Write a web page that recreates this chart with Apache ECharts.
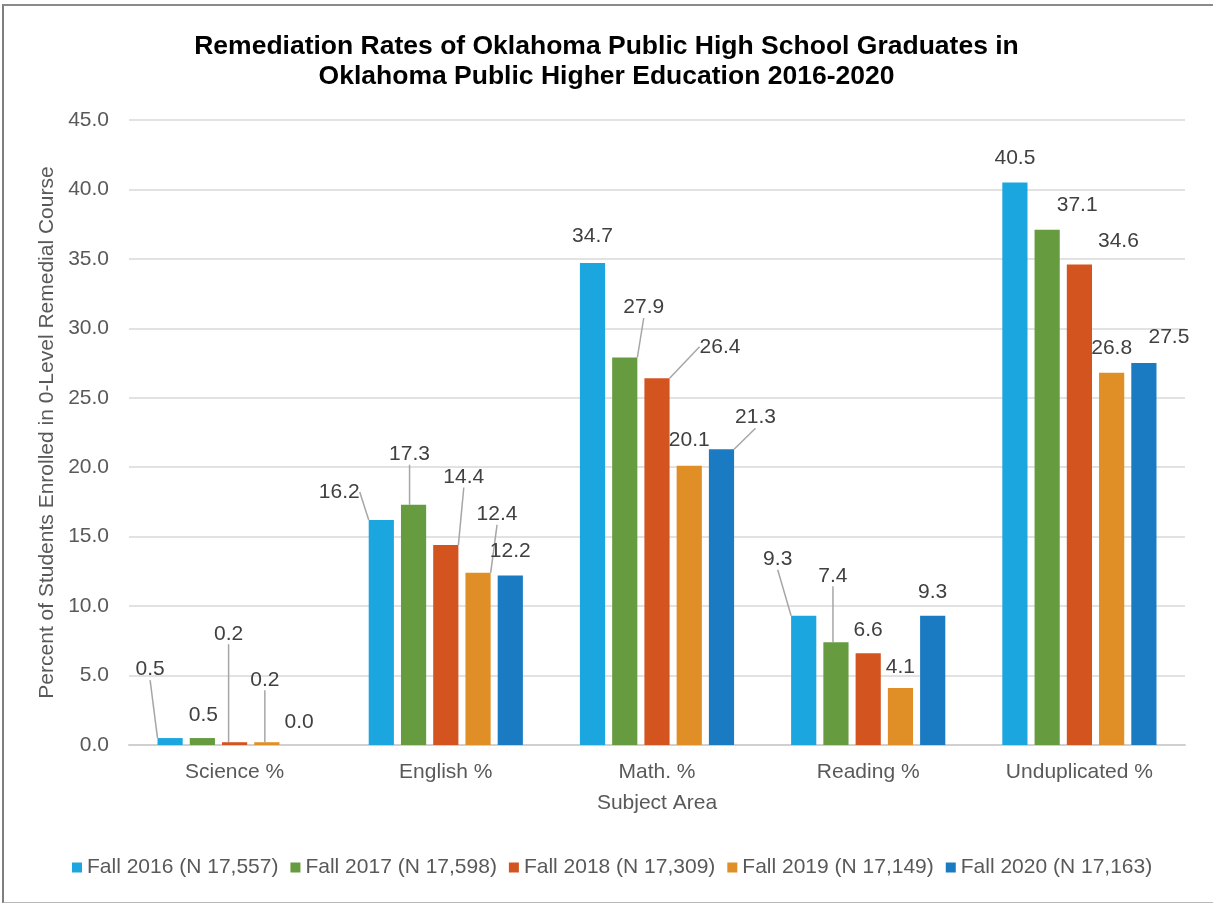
<!DOCTYPE html>
<html><head><meta charset="utf-8">
<script src="https://cdn.jsdelivr.net/npm/echarts@6/dist/echarts.min.js"></script>
<style>
html,body{margin:0;padding:0;background:#fff;overflow:hidden}
#c{position:absolute;left:0;top:0;width:1213px;height:903px}
#b{position:absolute;left:2px;top:4px;width:1230px;height:896px;border-left:2px solid #7f7f7f;border-top:2px solid #8a8a8a;border-bottom:2px solid #b8b8b8;pointer-events:none}
</style></head>
<body><div id="c"></div><div id="b"></div>
<script>
// ---- data ----
const categories = ['Science %', 'English %', 'Math. %', 'Reading %', 'Unduplicated %'];
const seriesNames = ['Fall 2016 (N 17,557)', 'Fall 2017 (N 17,598)', 'Fall 2018 (N 17,309)', 'Fall 2019 (N 17,149)', 'Fall 2020 (N 17,163)'];
const fall2016 = [0.5, 16.2, 34.7, 9.3, 40.5];
const fall2017 = [0.5, 17.3, 27.9, 7.4, 37.1];
const fall2018 = [0.2, 14.4, 26.4, 6.6, 34.6];
const fall2019 = [0.2, 12.4, 20.1, 4.1, 26.8];
const fall2020 = [0.0, 12.2, 21.3, 9.3, 27.5];
const yMin = 0, yMax = 45, yInterval = 5;

// ---- styling / layout ----
const colors = ['#1CA6DF', '#669B40', '#D4541F', '#E08F27', '#1A7BC2'];
// label shifts [dx, dy, hasLeaderLine] per series, per category
const labelShift = [
  [[-20, -53, 1], [-42, -12.5, 1], [0, -11.5, 0], [-26, -41, 1], [0, -9, 0]],
  [[1, -7, 0], [-4, -35, 1], [19, -34.5, 1], [-3, -51, 1], [30, -9, 0]],
  [[-6, -93, 1], [18, -52.5, 1], [63, -16, 1], [0, -8, 0], [39, -7.5, 0]],
  [[-2, -47, 1], [19, -43, 1], [0, -10, 0], [0, -5.5, 0], [0, -9, 0]],
  [[0, -7, 0], [0, -8.5, 0], [34, -16, 1], [0, -8, 0], [25, -10.5, 0]]
];
const FONT = '"Liberation Sans", Arial, sans-serif';

const allSeries = [fall2016, fall2017, fall2018, fall2019, fall2020];
const chart = echarts.init(document.getElementById('c'), null, {renderer: 'canvas'});
chart.setOption({
  animation: false,
  textStyle: {fontFamily: FONT},
  title: {
    text: 'Remediation Rates of Oklahoma Public High School Graduates in\nOklahoma Public Higher Education 2016-2020',
    left: 'center', top: 27,
    textStyle: {fontSize: 26.5, fontWeight: 'bold', color: '#000', lineHeight: 30, fontFamily: FONT}
  },
  legend: {
    top: 852, left: 67,
    itemWidth: 10, itemHeight: 10, itemGap: 12,
    icon: 'rect',
    textStyle: {fontSize: 21, color: '#595959', fontFamily: FONT},
    data: seriesNames
  },
  grid: {left: 129, right: 28, top: 120, bottom: 158, containLabel: false},
  xAxis: {
    type: 'category', data: categories,
    name: 'Subject Area', nameLocation: 'middle', nameGap: 48,
    nameTextStyle: {fontSize: 21, color: '#595959', fontFamily: FONT},
    axisLine: {lineStyle: {color: '#d0d0d0', width: 2}},
    axisTick: {show: false},
    axisLabel: {fontSize: 21, color: '#595959', margin: 17, fontFamily: FONT}
  },
  yAxis: {
    type: 'value', min: yMin, max: yMax, interval: yInterval,
    name: 'Percent of Students Enrolled in 0-Level Remedial Course',
    nameLocation: 'middle', nameGap: 68,
    nameTextStyle: {fontSize: 21, color: '#595959', fontFamily: FONT},
    axisLine: {show: false}, axisTick: {show: false},
    axisLabel: {fontSize: 21, color: '#595959', margin: 20, formatter: v => v.toFixed(1), fontFamily: FONT},
    splitLine: {lineStyle: {color: '#d9d9d9', width: 1.5}}
  },
  series: allSeries.map((vals, si) => ({
    name: seriesNames[si],
    type: 'bar',
    barCategoryGap: '27%',
    barGap: '28%',
    itemStyle: {color: colors[si]},
    data: vals.map((v, ci) => ({
      value: v,
      labelLine: {show: !!labelShift[si][ci][2]}
    })),
    label: {
      show: true, position: 'top', distance: 5,
      fontSize: 21, color: '#404040', fontFamily: FONT,
      formatter: p => Number(p.value).toFixed(1)
    },
    labelLine: {lineStyle: {color: '#a6a6a6', width: 1.5}},
    labelLayout: p => ({dx: labelShift[p.seriesIndex][p.dataIndex][0], dy: labelShift[p.seriesIndex][p.dataIndex][1]})
  }))
});
</script>
</body></html>
